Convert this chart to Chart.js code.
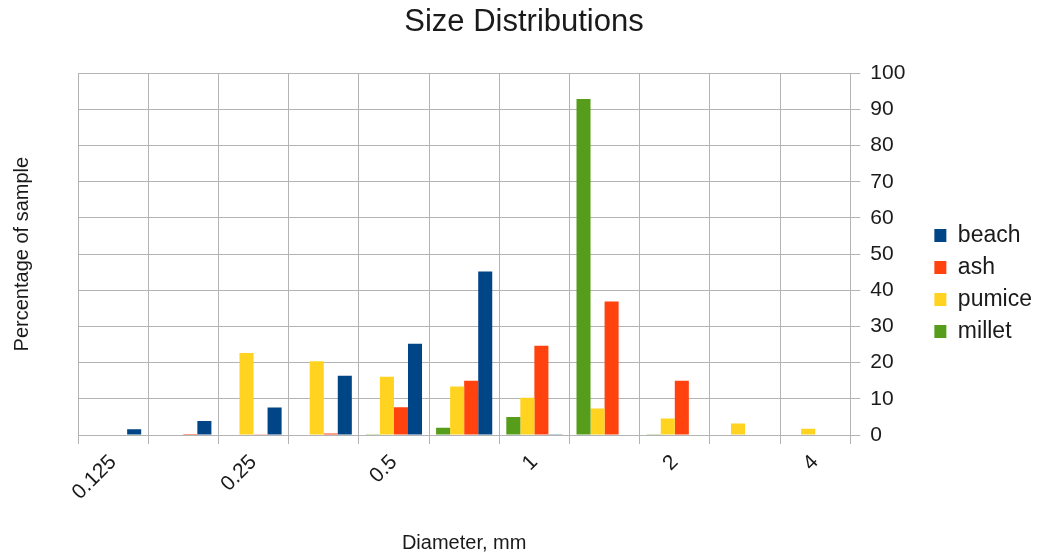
<!DOCTYPE html>
<html>
<head>
<meta charset="utf-8">
<script src="https://cdn.jsdelivr.net/npm/chart.js@4/dist/chart.umd.min.js"></script>
<style>
  html, body { margin: 0; padding: 0; background: #fff; }
</style>
</head>
<body>
<canvas id="sizeChart" width="1037" height="558"></canvas>
<script>
// diameter classes (mm); only every other class is labelled in the original
const diameters = ['0.125', '', '0.25', '', '0.5', '', '1', '', '2', '', '4'];

// percentage of sample in each class
const beach  = [1.6, 3.9, 7.6, 16.4, 25.2, 45.2, 0.1, 0, 0, 0, 0];
const ash    = [0, 0.3, 0.2, 0.4, 7.7, 15.0, 24.7, 36.9, 15.0, 0, 0];
const pumice = [0, 0, 22.7, 20.4, 16.1, 13.4, 10.3, 7.3, 4.6, 3.2, 1.7];
const millet = [0, 0, 0, 0, 0.1, 2.0, 5.0, 92.9, 0.1, 0, 0];

const yMin = 0;
const yMax = 100;
const yStep = 10;

const gridGrey = '#b3b3b3';
const textColor = '#1a1a1a';
const family = '"Liberation Sans", Arial, sans-serif';

Chart.defaults.font.family = family;
Chart.defaults.color = textColor;

const ctx = document.getElementById('sizeChart').getContext('2d');
new Chart(ctx, {
  type: 'bar',
  data: {
    labels: diameters,
    // drawn left to right inside each group: millet, pumice, ash, beach
    datasets: [
      { label: 'millet', data: millet, backgroundColor: '#579d1c' },
      { label: 'pumice', data: pumice, backgroundColor: '#ffd320' },
      { label: 'ash', data: ash, backgroundColor: '#ff420e' },
      { label: 'beach', data: beach, backgroundColor: '#004586' }
    ]
  },
  options: {
    responsive: false,
    animation: false,
    layout: { padding: { left: 6, right: -5, top: 0, bottom: -9 } },
    datasets: {
      bar: { categoryPercentage: 0.8, barPercentage: 1.0, borderWidth: 0 }
    },
    plugins: {
      title: {
        display: true,
        text: 'Size Distributions',
        color: textColor,
        font: { size: 31, weight: 'normal' },
        padding: { top: 4, bottom: 32 }
      },
      legend: {
        position: 'right',
        reverse: true,
        labels: {
          boxWidth: 12,
          boxHeight: 13,
          padding: 9,
          color: textColor,
          font: { size: 23 }
        }
      },
      tooltip: { enabled: false }
    },
    scales: {
      x: {
        grid: { color: gridGrey, tickLength: 9, offset: true },
        border: { color: gridGrey },
        ticks: {
          autoSkip: false,
          minRotation: 45,
          maxRotation: 45,
          padding: 6,
          font: { size: 21 }
        },
        title: {
          display: true,
          text: 'Diameter, mm',
          font: { size: 20 },
          padding: { top: 20, bottom: 12 }
        }
      },
      y: {
        position: 'right',
        min: yMin,
        max: yMax,
        ticks: { stepSize: yStep, padding: 10, font: { size: 21 } },
        grid: { color: gridGrey, tickLength: 10 },
        border: { color: gridGrey },
        afterFit: (scale) => { scale.width += 10; }
      },
      // left-hand axis that only carries the title
      yTitle: {
        position: 'left',
        min: yMin,
        max: yMax,
        grid: { display: false, drawTicks: false },
        border: { display: false },
        ticks: { display: false },
        title: {
          display: true,
          text: 'Percentage of sample',
          font: { size: 20 },
          padding: 4
        },
        afterFit: (scale) => { scale.width = 72; }
      }
    }
  }
});
</script>
</body>
</html>
